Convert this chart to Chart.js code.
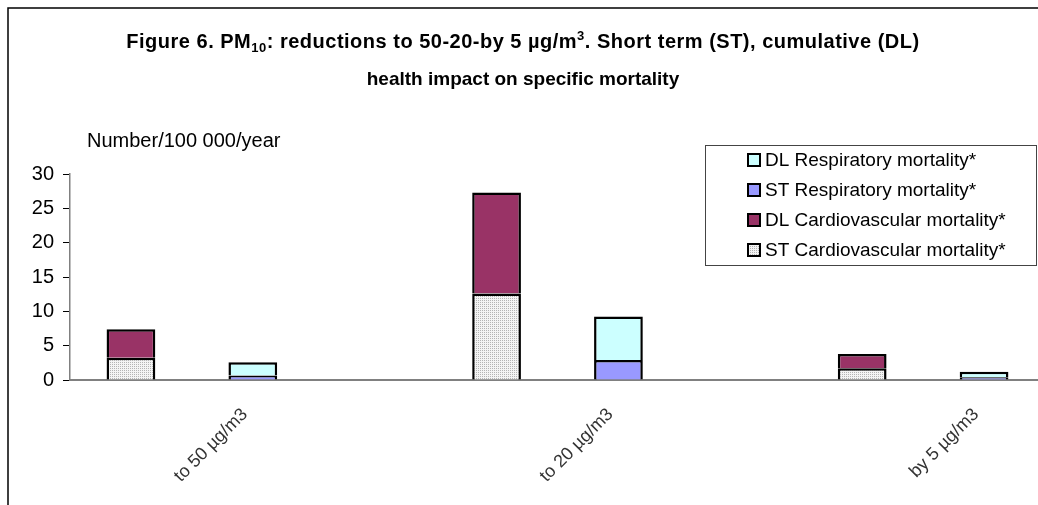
<!DOCTYPE html>
<html>
<head>
<meta charset="utf-8">
<script src="https://cdn.jsdelivr.net/npm/chart.js@4/dist/chart.umd.min.js"></script>
<style>
  html, body { margin: 0; padding: 0; background: #fff; overflow: hidden; }
  #wrap { width: 1038px; height: 505px; overflow: hidden; position: relative; }
  #wrap canvas { position: absolute; left: 0; top: 0; }
</style>
</head>
<body>
<div id="wrap"><canvas id="fig6" width="1060" height="505"></canvas></div>
<script>
// categories (blank slots keep the gap between the reduction groups)
const categories = ['', 'to 50 µg/m3', '', '', 'to 20 µg/m3', '', '', 'by 5 µg/m3'];

// Number/100 000/year
const stCardio = [3.25, null, null, 12.6, null, null, 1.7, null];
const dlCardio = [4.15, null, null, 14.7, null, null, 2.1, null];
const stResp   = [null, 0.65, null, null, 2.9, null, null, 0.4];
const dlResp   = [null, 1.95, null, null, 6.35, null, null, 0.8];

const yTicks = [0, 5, 10, 15, 20, 25, 30];

const FONT = "'Liberation Sans', Arial, sans-serif";

// dotted grey fill like the excel pattern
function dots() {
    const c = document.createElement('canvas');
    c.width = 2; c.height = 2;
    const g = c.getContext('2d');
    g.fillStyle = '#f4f4f4';
    g.fillRect(0, 0, 2, 2);
    g.fillStyle = '#b4b4b4';
    g.fillRect(0, 0, 1, 1);
    return g.createPattern(c, 'repeat');
}
const ctx = document.getElementById('fig6').getContext('2d');
const dotFill = dots();

// title, axis label, legend box and outer frame
const decor = {
    id: 'decor',
    afterDraw(chart) {
        const c = chart.ctx;
        c.save();
        // frame
        c.strokeStyle = '#000';
        c.lineWidth = 1.5;
        c.strokeRect(8, 8, 1100, 600);

        // title line 1 with sub/superscripts
        const parts = [
            ['Figure 6. PM', 0],
            ['10', 1],
            [': reductions to 50-20-by 5 µg/m', 0],
            ['3', -1],
            ['. Short term (ST), cumulative (DL)', 0]
        ];
        const big = 'bold 20px ' + FONT, small = 'bold 13px ' + FONT;
        c.letterSpacing = '0.5px';
        let w = 0;
        parts.forEach(p => { c.font = p[1] ? small : big; w += c.measureText(p[0]).width; });
        let x = 523 - w / 2;
        c.fillStyle = '#000';
        c.textBaseline = 'alphabetic';
        c.textAlign = 'left';
        parts.forEach(p => {
            c.font = p[1] ? small : big;
            const dy = p[1] === 1 ? 4 : (p[1] === -1 ? -8 : 0);
            c.fillText(p[0], x, 48 + dy);
            x += c.measureText(p[0]).width;
        });
        c.letterSpacing = '0px';
        c.font = 'bold 19px ' + FONT;
        c.textAlign = 'center';
        c.fillText('health impact on specific mortality', 523, 85);

        // y axis caption
        c.font = '20px ' + FONT;
        c.textAlign = 'left';
        c.fillText('Number/100 000/year', 87, 147);

        // legend
        c.strokeStyle = '#444';
        c.lineWidth = 1;
        c.fillStyle = '#fff';
        c.fillRect(705.5, 145.5, 331, 120);
        c.strokeRect(705.5, 145.5, 331, 120);
        const items = chart.data.datasets.slice().reverse();
        c.textBaseline = 'middle';
        items.forEach((ds, i) => {
            const cy = 160 + i * 30;
            c.fillStyle = ds.backgroundColor;
            c.fillRect(748, cy - 6, 12, 12);
            c.strokeStyle = '#000';
            c.lineWidth = 2;
            c.strokeRect(748, cy - 6, 12, 12);
            c.fillStyle = '#000';
            c.font = '19px ' + FONT;
            c.fillText(ds.label, 765, cy + 1);
        });
        c.restore();
    }
};

const Fig6 = new Chart(ctx, {
    type: 'bar',
    data: {
        labels: categories,
        datasets: [{
            label: 'ST Cardiovascular mortality*',
            data: stCardio,
            backgroundColor: dotFill
        }, {
            label: 'DL Cardiovascular mortality*',
            data: dlCardio,
            backgroundColor: '#993366'
        }, {
            label: 'ST Respiratory mortality*',
            data: stResp,
            backgroundColor: '#9999FF'
        }, {
            label: 'DL Respiratory mortality*',
            data: dlResp,
            backgroundColor: '#CCFFFF'
        }]
    },
    options: {
        responsive: false,
        animation: false,
        layout: { padding: { left: 0, top: 174, right: 15, bottom: 0 } },
        datasets: {
            bar: {
                borderColor: '#000',
                borderWidth: 2.5,
                categoryPercentage: 1,
                barPercentage: 0.4
            }
        },
        plugins: {
            legend: { display: false },
            title: { display: false },
            tooltip: { enabled: false }
        },
        scales: {
            x: {
                stacked: true,
                grid: { display: false, drawTicks: false },
                border: { display: true, color: '#808080', width: 2 },
                afterFit: s => { s.height = 125; },
                ticks: {
                    autoSkip: false,
                    minRotation: 45,
                    maxRotation: 45,
                    padding: 24,
                    labelOffset: -8,
                    color: '#333',
                    font: { family: FONT, size: 18 }
                }
            },
            y: {
                stacked: true,
                min: 0,
                max: 30,
                afterFit: s => { s.width = 70; },
                afterBuildTicks: s => { s.ticks = yTicks.map(v => ({ value: v })); },
                grid: { drawOnChartArea: false, tickLength: 7, tickColor: '#000', tickWidth: 1 },
                border: { display: true, color: '#808080', width: 1.5 },
                ticks: {
                    padding: 9,
                    color: '#000',
                    font: { family: FONT, size: 20 }
                }
            }
        }
    },
    plugins: [decor]
});
</script>
</body>
</html>
